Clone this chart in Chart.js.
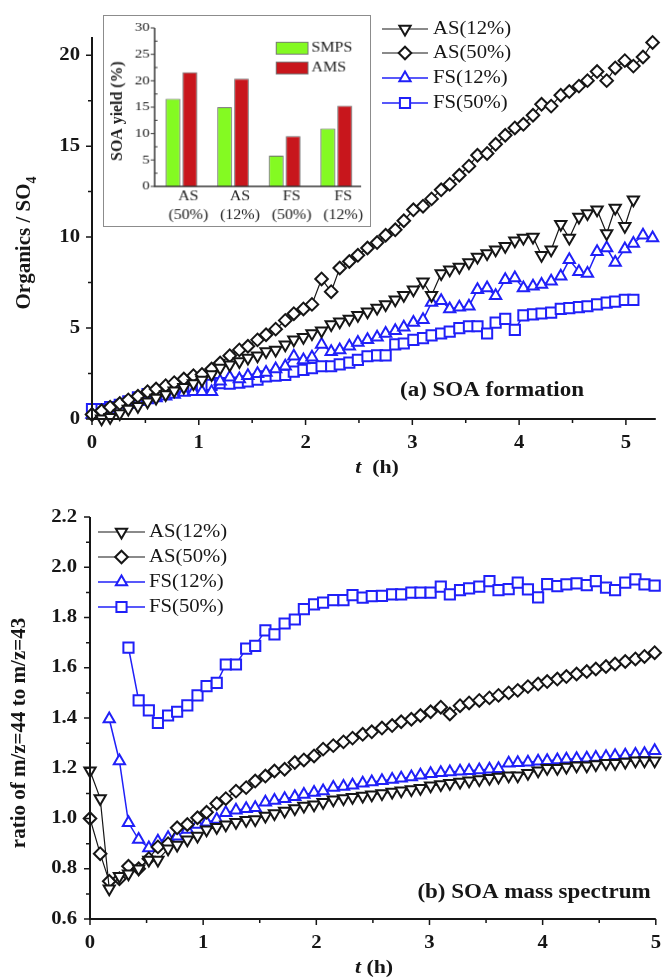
<!DOCTYPE html>
<html>
<head>
<meta charset="utf-8">
<script src="https://cdn.jsdelivr.net/npm/chart.js@4.4.1/dist/chart.umd.min.js"></script>
<style>
  html, body { margin: 0; padding: 0; background: #fff; }
  #wrap { position: relative; width: 665px; height: 980px; overflow: hidden; }
  #wrap canvas { position: absolute; }
  #top { left: 0; top: 0; }
  #bottom { left: 0; top: 490px; }
  #inset { left: 103px; top: 15px; border: 1px solid #8c8c8c; background: #fff; }
</style>
</head>
<body>
<div id="wrap">
  <canvas id="top" width="665" height="490"></canvas>
  <canvas id="bottom" width="665" height="490"></canvas>
  <canvas id="inset" width="268" height="212"></canvas>
</div>
<script>
(() => {
  "use strict";

  // sampling times (h), shared by both panels
  const hours = [
    0.00, 0.09, 0.17, 0.26, 0.34, 0.43, 0.52, 0.60, 0.69, 0.77,
    0.86, 0.95, 1.03, 1.12, 1.20, 1.29, 1.38, 1.46, 1.55, 1.63,
    1.72, 1.81, 1.89, 1.98, 2.06, 2.15, 2.24, 2.32, 2.41, 2.49,
    2.58, 2.67, 2.75, 2.84, 2.92, 3.01, 3.10, 3.18, 3.27, 3.35,
    3.44, 3.53, 3.61, 3.70, 3.78, 3.87, 3.96, 4.04, 4.13, 4.21,
    4.30, 4.39, 4.47, 4.56, 4.64, 4.73, 4.82, 4.90, 4.99, 5.07,
    5.16, 5.25,
  ];

  const names = ["AS(12%)", "AS(50%)", "FS(12%)", "FS(50%)"];

  // (a) Organics / SO4
  const topAS12 = [
    null, 0.02, 0.10, 0.30, 0.55, 0.70, 0.95, 1.15, 1.35, 1.55,
    1.75, 1.95, 2.15, 2.45, 2.80, 2.98, 3.16, 3.35, 3.48, 3.71,
    3.80, 4.08, 4.35, 4.50, 4.70, 4.85, 5.20, 5.35, 5.50, 5.70,
    5.90, 6.10, 6.30, 6.55, 6.80, 7.10, 7.55, 6.80, 8.00, 8.20,
    8.35, 8.60, 8.90, 9.10, 9.30, 9.50, 9.80, 9.95, 10.00, 9.00,
    9.30, 10.70, 9.95, 11.10, 11.30, 11.50, 10.20, 11.60, 10.60, 12.05,
  ];
  const topAS50 = [
    0.25, 0.45, 0.65, 0.85, 1.05, 1.25, 1.50, 1.65, 1.83, 2.00,
    2.20, 2.38, 2.45, 2.75, 3.08, 3.48, 3.80, 4.00, 4.35, 4.63,
    4.94, 5.42, 5.79, 6.05, 6.30, 7.70, 7.00, 8.30, 8.66, 9.00,
    9.40, 9.70, 10.10, 10.40, 10.90, 11.50, 11.70, 12.10, 12.60, 12.90,
    13.40, 13.90, 14.50, 14.60, 15.10, 15.60, 16.00, 16.20, 16.70, 17.30,
    17.20, 17.80, 18.00, 18.30, 18.60, 19.10, 18.60, 19.30, 19.70, 19.40,
    19.90, 20.70,
  ];
  const topFS12 = [
    0.25, 0.35, 0.50, 0.60, 0.80, 0.95, 1.05, 1.15, 1.25, 1.35,
    1.45, 1.50, 1.50, 1.50, 2.07, 2.30, 2.20, 2.38, 2.49, 2.56,
    2.75, 2.90, 3.45, 3.25, 3.40, 4.10, 3.70, 3.80, 4.00, 4.20,
    4.35, 4.50, 4.70, 4.85, 5.05, 5.30, 5.45, 6.40, 6.50, 6.05,
    6.15, 6.20, 7.10, 7.20, 6.77, 7.65, 7.75, 7.20, 7.30, 7.40,
    7.57, 7.85, 8.75, 8.10, 8.00, 9.20, 9.40, 8.60, 9.35, 9.65,
    10.10, 9.95,
  ];
  const topFS50 = [
    0.55, 0.55, 0.66, 0.78, 0.97, 1.19, 1.37, 1.43, 1.52, 1.65,
    1.74, 1.79, 1.83, 1.88, 1.97, 1.94, 2.00, 2.07, 2.16, 2.34,
    2.38, 2.43, 2.60, 2.70, 2.80, 2.90, 2.90, 3.00, 3.10, 3.25,
    3.45, 3.50, 3.50, 4.10, 4.15, 4.35, 4.45, 4.60, 4.70, 4.80,
    5.00, 5.10, 5.10, 4.70, 5.30, 5.50, 4.90, 5.70, 5.75, 5.80,
    5.85, 6.05, 6.10, 6.15, 6.20, 6.30, 6.40, 6.45, 6.55, 6.55,
  ];

  // (b) ratio of m/z=44 to m/z=43
  const botAS12 = [
    1.19, 1.08, 0.72, 0.77, 0.78, 0.80, 0.835, 0.835, 0.88, 0.895,
    0.915, 0.93, 0.955, 0.965, 0.975, 0.985, 0.993, 0.996, 1.01, 1.02,
    1.03, 1.04, 1.05, 1.055, 1.065, 1.075, 1.08, 1.085, 1.09, 1.095,
    1.10, 1.105, 1.11, 1.115, 1.12, 1.13, 1.135, 1.14, 1.145, 1.15,
    1.155, 1.16, 1.165, 1.17, 1.17, 1.18, 1.19, 1.20, 1.20, 1.205,
    1.21, 1.21, 1.215, 1.22, 1.22, 1.225, 1.23, 1.23, 1.23,
  ];
  const botAS50 = [
    1.00, 0.86, 0.75, 0.76, 0.81, 0.80, 0.84, 0.887, 0.90, 0.963,
    0.976, 1.003, 1.025, 1.06, 1.079, 1.109, 1.123, 1.149, 1.169, 1.189,
    1.196, 1.223, 1.233, 1.249, 1.276, 1.29, 1.305, 1.32, 1.335, 1.345,
    1.36, 1.37, 1.385, 1.395, 1.41, 1.425, 1.443, 1.416, 1.449, 1.46,
    1.47, 1.48, 1.49, 1.50, 1.51, 1.525, 1.535, 1.545, 1.555, 1.565,
    1.575, 1.585, 1.595, 1.605, 1.615, 1.625, 1.635, 1.645, 1.66,
  ];
  const botFS12 = [
    null, null, 1.396, 1.229, 0.983, 0.916, 0.883, 0.909, 0.923, 0.929,
    0.956, 0.976, 0.985, 0.996, 1.023, 1.033, 1.039, 1.043, 1.065, 1.072,
    1.079, 1.087, 1.096, 1.103, 1.109, 1.123, 1.127, 1.132, 1.14, 1.145,
    1.15, 1.155, 1.16, 1.165, 1.172, 1.178, 1.182, 1.185, 1.188, 1.19,
    1.193, 1.196, 1.198, 1.22, 1.222, 1.224, 1.228, 1.23, 1.233, 1.236,
    1.238, 1.24, 1.243, 1.246, 1.25, 1.252, 1.255, 1.258, 1.27,
  ];
  const botFS50 = [
    null, null, null, null, 1.68, 1.47, 1.43, 1.38, 1.41, 1.425,
    1.45, 1.49, 1.527, 1.54, 1.613, 1.613, 1.676, 1.687, 1.749, 1.733,
    1.776, 1.792, 1.833, 1.852, 1.859, 1.869, 1.869, 1.889, 1.879, 1.885,
    1.886, 1.892, 1.892, 1.899, 1.899, 1.899, 1.923, 1.892, 1.909, 1.916,
    1.923, 1.945, 1.909, 1.913, 1.939, 1.912, 1.88, 1.933, 1.925, 1.932,
    1.936, 1.929, 1.945, 1.919, 1.909, 1.939, 1.952, 1.932, 1.927,
  ];

  // inset: SOA yield (%)
  const yieldGroups = ["AS", "AS", "FS", "FS"];
  const yieldRH = ["(50%)", "(12%)", "(50%)", "(12%)"];
  const smpsYield = [16.6, 15.0, 5.8, 10.95];
  const amsYield = [21.6, 20.4, 9.5, 15.3];

  const SERIF = '"Liberation Serif", "Times New Roman", serif';
  const SX = 1.15; // the source figure is a little wider than tall
  const INK = "#161616";
  const BLUE = "#2020f8";

  const looks = [
    { color: INK, style: "triangle", rot: 180, r: 6.5, line: 1.2 },
    { color: INK, style: "rectRot", rot: 0, r: 6.3, line: 1.2 },
    { color: BLUE, style: "triangle", rot: 0, r: 6.5, line: 1.5 },
    { color: BLUE, style: "rect", rot: 0, r: 7.2, line: 1.5 },
  ];

  function series(values, i) {
    const lk = looks[i];
    return {
      label: names[i],
      data: values.map((v, k) => ({ x: hours[k], y: v })).filter((p) => p.y !== null),
      borderColor: lk.color,
      borderWidth: lk.line,
      pointStyle: lk.style,
      pointRotation: lk.rot,
      pointRadius: lk.r,
      pointHoverRadius: lk.r,
      pointBorderColor: lk.color,
      pointBackgroundColor: "#fff",
      pointBorderWidth: 2,
      tension: 0,
      clip: false,
    };
  }

  function put(ctx, s, x, y, font, align) {
    ctx.save();
    ctx.translate(x, y);
    ctx.scale(SX, 1);
    ctx.font = font;
    ctx.textAlign = align || "center";
    ctx.textBaseline = "middle";
    ctx.fillText(s, 0, 0);
    ctx.restore();
  }

  // axes, ticks, titles, legend and note drawn on the line panels
  const frame = {
    id: "frame",
    afterDraw(chart, _args, o) {
      const { ctx, chartArea: a } = chart;
      const xs = chart.scales.x, ys = chart.scales.y;
      ctx.save();
      ctx.strokeStyle = INK;
      ctx.fillStyle = INK;
      ctx.lineWidth = 2;
      ctx.beginPath();
      ctx.moveTo(a.left, a.top);
      ctx.lineTo(a.left, a.bottom);
      ctx.lineTo(a.right, a.bottom);
      ctx.stroke();

      ctx.lineWidth = 1.5;
      ctx.beginPath();
      o.xMajor.forEach((v) => { const p = xs.getPixelForValue(v); ctx.moveTo(p, a.bottom); ctx.lineTo(p, a.bottom + 6); });
      o.xMinor.forEach((v) => { const p = xs.getPixelForValue(v); ctx.moveTo(p, a.bottom); ctx.lineTo(p, a.bottom + 4); });
      o.yMajor.forEach((v) => { const p = ys.getPixelForValue(v); ctx.moveTo(a.left, p); ctx.lineTo(a.left - 6, p); });
      o.yMinor.forEach((v) => { const p = ys.getPixelForValue(v); ctx.moveTo(a.left, p); ctx.lineTo(a.left - 4, p); });
      ctx.stroke();

      const tickFont = "bold 18px " + SERIF;
      o.xMajor.forEach((v) => put(ctx, String(v), xs.getPixelForValue(v), a.bottom + o.xLabelGap, tickFont));
      o.yMajor.forEach((v) => put(ctx, v.toFixed(o.yDigits), a.left - o.yLabelGap, ys.getPixelForValue(v), tickFont, "right"));

      // x title: italic t
      const fT = "italic bold 19px " + SERIF, fH = "bold 19px " + SERIF;
      ctx.font = fT; const w1 = ctx.measureText("t").width;
      ctx.font = fH; const w2 = ctx.measureText(o.xRest).width;
      const x0 = o.xTitle[0] - (w1 + w2) * SX / 2;
      put(ctx, "t", x0, o.xTitle[1], fT, "left");
      put(ctx, o.xRest, x0 + w1 * SX, o.xTitle[1], fH, "left");

      // y title, rotated, optional subscript
      ctx.save();
      ctx.translate(o.yTitle[0], o.yTitle[1]);
      ctx.rotate(-Math.PI / 2);
      ctx.textBaseline = "middle";
      ctx.textAlign = "left";
      const fM = "bold " + o.yTitleSize + "px " + SERIF, fS = "bold 14px " + SERIF;
      ctx.font = fM; const wm = ctx.measureText(o.yText).width;
      ctx.font = fS; const ws = o.ySub ? ctx.measureText(o.ySub).width : 0;
      const s0 = -(wm + ws) / 2;
      ctx.font = fM; ctx.fillText(o.yText, s0, 0);
      if (o.ySub) { ctx.font = fS; ctx.fillText(o.ySub, s0 + wm, 7); }
      ctx.restore();

      // legend
      const lg = o.legend;
      chart.data.datasets.forEach((ds, i) => {
        const yy = lg.rows[i];
        ctx.strokeStyle = ds.borderColor;
        ctx.lineWidth = ds.borderWidth;
        ctx.beginPath();
        ctx.moveTo(lg.x0, yy);
        ctx.lineTo(lg.x1, yy);
        ctx.stroke();
        ctx.fillStyle = "#fff";
        ctx.lineWidth = ds.pointBorderWidth;
        Chart.helpers.drawPoint(ctx, {
          pointStyle: ds.pointStyle, rotation: ds.pointRotation,
          radius: ds.pointRadius, borderWidth: ds.pointBorderWidth,
        }, (lg.x0 + lg.x1) / 2, yy);
        ctx.fillStyle = INK;
        put(ctx, ds.label, lg.tx, yy, "18px " + SERIF, "left");
      });

      put(ctx, o.note[0], o.note[1], o.note[2], "bold 20px " + SERIF);
      ctx.restore();
    },
  };

  const common = (o) => ({
    responsive: false,
    animation: false,
    layout: { padding: o.padding },
    scales: {
      x: { type: "linear", display: false, min: 0, max: o.xMax },
      y: { type: "linear", display: false, min: o.yMin, max: o.yMax },
    },
    plugins: { legend: { display: false }, tooltip: { enabled: false }, frame: o.frame },
  });

  new Chart(document.getElementById("top"), {
    type: "line",
    data: { datasets: [series(topAS12, 0), series(topAS50, 1), series(topFS12, 2), series(topFS50, 3)] },
    options: common({
      padding: { left: 92, right: 1, top: 37, bottom: 71 },
      xMax: 5.28, yMin: 0, yMax: 21,
      frame: {
        xMajor: [0, 1, 2, 3, 4, 5], xMinor: [0.5, 1.5, 2.5, 3.5, 4.5],
        yMajor: [0, 5, 10, 15, 20], yMinor: [2.5, 7.5, 12.5, 17.5],
        yDigits: 0, xLabelGap: 24, yLabelGap: 12,
        xTitle: [377, 468], xRest: "  (h)",
        yTitle: [25, 243], yText: "Organics / SO", ySub: "4", yTitleSize: 21,
        legend: { x0: 382, x1: 428, tx: 433, rows: [29, 53, 78, 103] },
        note: ["(a) SOA formation", 492, 391],
      },
    }),
    plugins: [frame],
  });

  new Chart(document.getElementById("bottom"), {
    type: "line",
    data: { datasets: [series(botAS12, 0), series(botAS50, 1), series(botFS12, 2), series(botFS50, 3)] },
    options: common({
      padding: { left: 90, right: 6, top: 27, bottom: 61 },
      xMax: 5, yMin: 0.6, yMax: 2.2,
      frame: {
        xMajor: [0, 1, 2, 3, 4, 5], xMinor: [0.5, 1.5, 2.5, 3.5, 4.5],
        yMajor: [0.6, 0.8, 1.0, 1.2, 1.4, 1.6, 1.8, 2.0, 2.2],
        yMinor: [0.7, 0.9, 1.1, 1.3, 1.5, 1.7, 1.9, 2.1],
        yDigits: 1, xLabelGap: 24, yLabelGap: 13,
        xTitle: [374, 478], xRest: " (h)",
        yTitle: [20, 243], yText: "ratio of m/z=44 to m/z=43", ySub: "", yTitleSize: 21,
        legend: { x0: 98, x1: 145, tx: 149, rows: [42, 67, 92, 117] },
        note: ["(b) SOA mass spectrum", 534, 403],
      },
    }),
    plugins: [frame],
  });

  // inset bar chart decorations
  const insetFrame = {
    id: "insetFrame",
    afterDraw(chart) {
      const { ctx, chartArea: a } = chart;
      const ys = chart.scales.y, xs = chart.scales.x;
      ctx.save();
      ctx.strokeStyle = "#333";
      ctx.fillStyle = "#222";
      ctx.lineWidth = 1.5;
      ctx.beginPath();
      ctx.moveTo(a.left - 1, ys.getPixelForValue(30));
      ctx.lineTo(a.left - 1, a.bottom);
      ctx.lineTo(a.right - 1, a.bottom);
      ctx.stroke();
      ctx.lineWidth = 1;
      ctx.beginPath();
      [0, 5, 10, 15, 20, 25, 30].forEach((v) => {
        const p = ys.getPixelForValue(v);
        ctx.moveTo(a.left - 1, p); ctx.lineTo(a.left - 5, p);
        put(ctx, String(v), a.left - 6, p, "13px " + SERIF, "right");
      });
      [2.5, 7.5, 12.5, 17.5, 22.5, 27.5].forEach((v) => {
        const p = ys.getPixelForValue(v);
        ctx.moveTo(a.left - 1, p); ctx.lineTo(a.left + 2, p);
      });
      ctx.stroke();

      yieldGroups.forEach((g, i) => {
        const c = xs.getPixelForValue(i) + 7;
        put(ctx, g, c, a.bottom + 10, "14px " + SERIF);
        put(ctx, yieldRH[i], c, a.bottom + 29, "14px " + SERIF);
      });

      ctx.save();
      ctx.translate(14, 96);
      ctx.rotate(-Math.PI / 2);
      ctx.font = "bold 16px " + SERIF;
      ctx.textAlign = "center";
      ctx.textBaseline = "middle";
      ctx.fillText("SOA yield (%)", 0, 0);
      ctx.restore();

      chart.data.datasets.forEach((ds, i) => {
        const top = 26 + i * 20;
        ctx.fillStyle = ds.backgroundColor;
        ctx.fillRect(173, top, 33, 13);
        ctx.strokeStyle = "#777";
        ctx.strokeRect(173.5, top + 0.5, 32, 12);
        ctx.fillStyle = "#222";
        put(ctx, ds.label, 209, top + 6.5, "14px " + SERIF, "left");
      });
      ctx.restore();
    },
  };

  new Chart(document.getElementById("inset"), {
    type: "bar",
    data: {
      labels: yieldGroups.map((g, i) => g + " " + yieldRH[i]),
      datasets: [
        { label: "SMPS", data: smpsYield, backgroundColor: "#84fa22", borderColor: "#6a6a6a", borderWidth: 1, categoryPercentage: 0.654, barPercentage: 0.865 },
        { label: "AMS", data: amsYield, backgroundColor: "#c8161c", borderColor: "#6a6a6a", borderWidth: 1, categoryPercentage: 0.654, barPercentage: 0.865 },
      ],
    },
    options: {
      responsive: false,
      animation: false,
      layout: { padding: { left: 52, right: 8, top: 12, bottom: 40 } },
      scales: {
        x: { display: false },
        y: { display: false, min: 0, max: 30 },
      },
      plugins: { legend: { display: false }, tooltip: { enabled: false } },
    },
    plugins: [insetFrame],
  });
})();
</script>
</body>
</html>
